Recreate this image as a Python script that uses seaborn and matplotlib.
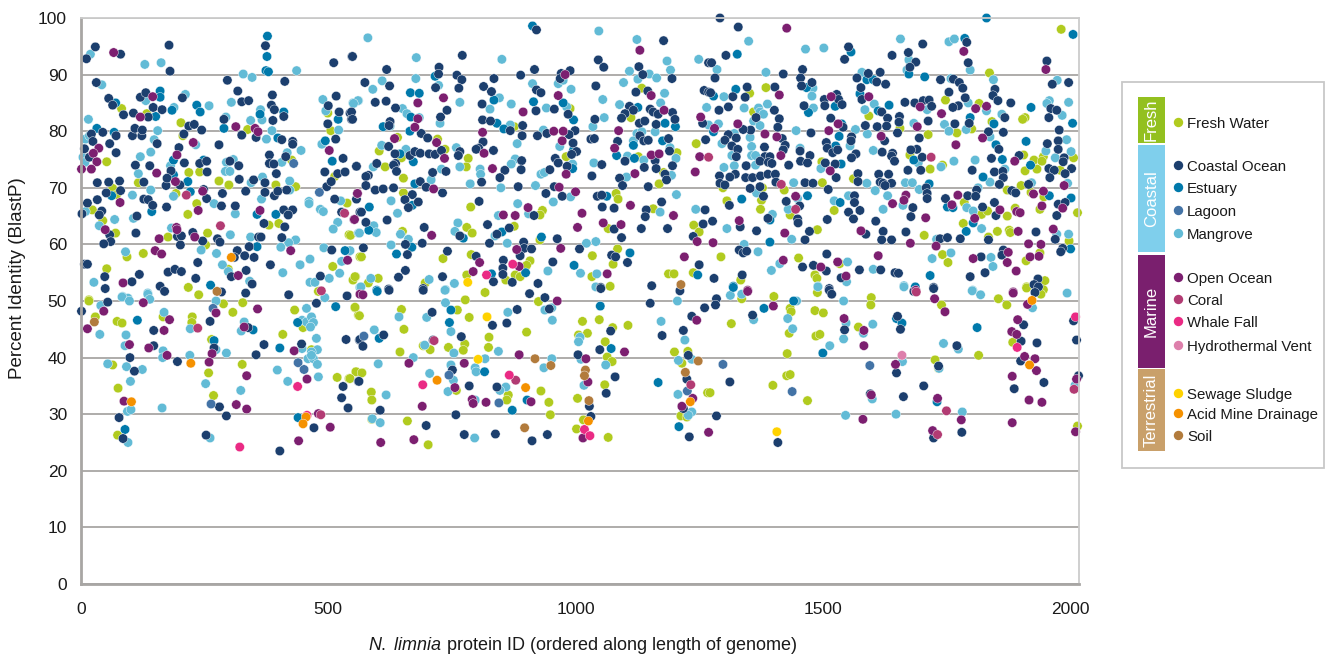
import matplotlib
matplotlib.use('Agg')
import matplotlib.pyplot as plt
from matplotlib.patches import Rectangle
import pandas as pd
import seaborn as sns

# values as (protein id, percent identity)
fresh_water = [(82,84),(133,83.1),(202,81.5),(206,79.2),(337,80.3),(499,83.2),(505,80.1),(52,74.6),(426,74.9),(218,72.7),(240,72.8),(279,71.2),(299,70.5),(116,70.9),(64,69.9),(72,68.8),(192,69),(234,67.2),(434,70.2),(394,70.5),(513,72),(538,67.3),(23,66.1),(44,64.2),(70,62),(216,65.3),(400,63.7),(380,63.4),(256,62),(176,61.3),(542,61.7),(252,59.9),(126,58.4),(93,57.8),(564,57.8),(509,56.1),(52,55.7),(298,55.6),(555,54.3),(550,53.7),(217,52.4),(238,51.1),(16,50.2),(480,51.7),
(16,50),(29,47.2),(73,46.4),(83,46.1),(288,49.5),(327,49.7),(307,48),(225,47.2),(224,46.2),(166,47.2),(408,44.1),(432,48.4),(449,45.3),(264,43.2),(64,38.7),(75,34.6),(258,37.3),(326,38.8),(268,33.3),(74,26.3),(518,36.5),(542,36.3),(556,37.5),(554,48.8),(561,47.5),(466,41.4),
(1134,87.6),(989,84),(1112,82.4),(876,80.8),(640,78.9),(721,78.6),(736,76.8),(603,76.5),(648,75.3),(981,75.5),(783,75.2),(779,73.7),(615,73.7),(652,71.7),(1178,72.7),(1205,76.2),(1169,70.7),(1127,75.5),(1244,77.8),(652,69.1),(1082,69),(1086,68),(788,66.6),(933,66),(928,65.2),(1157,66.3),(1239,63.4),(545,61.6),(780,63),(791,62),(1066,62.8),(876,63.2),(650,62.3),(1250,62.2),(928,60.8),(1085,59.2),(789,58.2),(732,57.5),(567,57.8),(1034,58),(1076,56.5),(908,57.1),(901,56.3),(1188,54.8),(1199,54.8),(780,54.6),(878,54.6),(888,54.3),(859,53.7),(1033,54.3),(1238,55),(554,54.3),(601,54),(581,53.2),(696,53.2),(1070,52.6),
(777,50.2),(817,51.5),(925,49.9),(554,48.9),(563,47.4),(648,48.5),(761,48.4),(785,47.1),(1014,46.4),(1048,46.7),(1106,45.7),(653,45),(901,44.5),(825,43.6),(1024,44.3),(1075,45.3),(1006,44),(1060,42.8),(776,42.4),(773,41.3),(824,41.8),(743,41.8),(706,41.4),(645,41),(692,42.1),(1200,41),(1227,41.1),(1064,40.1),(1074,39.3),(1215,39),(556,37.5),(568,37.3),(544,36.3),(1059,35.2),(930,34.1),(587,33.9),(588,32.5),(759,34.2),(864,33.4),(861,32.5),(946,32.1),(1004,32.8),(1267,33.8),(949,29.9),(588,29.1),(660,28.8),(1016,29),(1002,27.4),(1066,25.9),(702,24.6),(1213,29.7),(1225,29.5),
(1982,98),(1837,90.3),(1385,87.7),(1352,86.7),(1748,85.5),(1816,84.9),(1360,83.4),(1593,82.7),(1909,82.4),(1904,82.1),(1842,81.7),(1801,80.4),(1656,80.5),(1713,79.4),(1771,79.7),(1676,75.8),(1906,75.8),(1946,75.5),(1927,74.9),(1943,74.7),(2007,75.3),(1498,74.6),(1717,73.3),(1909,73),(1933,73.3),(1980,73.1),(1742,74),(1562,71.6),(1499,70.9),(1298,70),(1378,70),(1422,69.6),(1901,70.4),(1873,69.6),(1947,68.4),(1921,69.2),(1306,67.7),(1376,67.8),(1374,66.2),(1523,66),(1434,65.2),(1786,67.4),(1939,66.2),(2015,65.6),(1889,66.4),(1873,65),(1821,65.3),(1833,65.9),(1784,63.7),(1489,62.6),(1705,61.6),(1853,62.3),(1877,62.5),(1879,62.1),(1835,61.3),(1998,60.6),(1294,57.8),(1451,57.6),(1742,58.2),(1753,56.8),(1939,58.5),(1911,57.1),(1534,56.6),(1484,54.6),(1488,54),(1334,53.7),(1949,53.6),(1912,52.5),(1946,52),
(1336,50.4),(1401,50.8),(1489,51.5),(1434,48.7),(1436,48.1),(1484,48.3),(1501,47.9),(1598,50.6),(1597,49.3),(1740,49.3),(1855,50.4),(1872,49.3),(1912,52.3),(1941,51.2),(1315,46),(1572,45.4),(1432,44.3),(1486,43.8),(1494,44.1),(1884,42.7),(1428,40.7),(1727,39.6),(1815,40.4),(1427,36.8),(1434,37),(1399,35.1),(1734,38.1),(1469,32.4),(1272,33.8),(2015,27.9)]

mangrove = [(19,93.6),(129,91.8),(162,92.1),(42,88.2),(328,90.1),(346,89.5),(436,90.7),(304,85.1),(211,86.5),(259,84.5),(131,85.4),(188,84.2),(363,83.8),(293,82.5),(366,82),(343,81.9),(489,85.6),(495,83.6),(550,85),(561,85.4),(15,82.1),(155,80.1),(386,80.1),(375,78.6),(521,80.2),(9,78.6),(17,79.2),(148,78.5),(141,76.3),(120,75.5),(232,77.6),(445,76.6),(487,77.7),(4,75.4),(8,74.5),(181,73.9),(308,75),(294,74.5),(406,74.5),(417,76.2),(292,72.9),(301,72.9),(116,72.5),(367,71.9),(141,69.6),(422,71.2),(344,70.9),(104,68.7),(187,68.5),(422,69.6),(365,68),(269,67.2),(461,67.6),(461,67.2),(484,66.2),(490,65.8),(525,67.7),(9,65.8),(106,64.6),(68,64.4),(312,65.4),(519,63.9),(510,62.7),(37,63.3),(183,62.9),(302,61.7),(561,62),(434,60.8),(343,61.3),(420,60.3),(404,59.5),(491,59.4),(542,58.8),(90,58.7),(243,59),(274,58.4),(463,57.4),(443,56.4),(286,56.4),(527,57),(298,55.2),(408,55),(523,54.9),(502,54),(341,53.5),(26,53.3),(463,53.3),(473,53.3),(564,52.4),(84,50.8),(135,51.4),(95,50.5),
(40,49.2),(83,50.7),(98,50),(135,51.2),(139,50.3),(273,50),(493,50.6),(168,48),(456,48.7),(38,44.1),(91,44),(89,42.1),(221,45.1),(330,46.3),(324,44.7),(273,41.4),(166,41.2),(165,40),(220,40.4),(294,40.8),(54,38.9),(92,38.4),(124,37.9),(100,35.8),(252,35.4),(323,34.2),(94,30.5),(101,30.8),(164,31.1),(397,37.8),(418,35.8),(480,36.6),(261,25.8),(95,25),
(447,46.6),(456,46.3),(466,47.2),(470,46.2),(464,45.4),(476,43.4),(478,41.4),(466,41),(459,39.8),(470,39.8),(478,38.8),(466,40.4),(447,41.6),
(580,96.5),(1047,97.7),(1124,96.2),(678,93),(851,92.7),(1185,92.4),(1249,92.7),(1192,90.8),(1109,90.6),(677,89.3),(609,88.9),(590,87.4),(1126,89.2),(1149,90.1),(1164,89.4),(1097,88.6),(913,88.4),(965,88.4),(991,87.4),(975,89),(723,88.1),(1180,86.7),(560,85.4),(551,84.9),(766,85.1),(846,85.9),(870,84.8),(1055,85.6),(1172,85),(1089,84.7),(650,84),(659,83.1),(827,83.9),(941,84.1),(982,84.3),(1058,82.4),(1265,84.2),(726,81.4),(684,82.4),(625,80.9),(1035,80.8),(868,81.1),(935,80.2),(1124,79.6),(1134,79.9),(1161,79.9),(1269,81.1),(1117,78.3),(608,77.5),(657,76.8),(882,77.8),(968,77.3),(759,77.1),(1191,77.1),(1105,75.6),(1138,74.9),(1203,75.2),(878,75.1),(870,74.2),(591,73.7),(766,73.7),(729,73.3),(1037,74.4),(994,74.2),(807,73.3),(808,72.4),(930,72.4),(937,72.7),(708,71.4),(1103,71.9),(1194,72.2),(787,70.7),(849,70),(919,70.4),(1204,68.8),(990,68.4),(627,67.7),(883,67.2),(955,67.5),(640,65.5),(1243,66.2),(1171,65.7),(844,65.1),(905,65.4),(592,63.3),(597,62.1),(563,62),(762,63.8),(756,62.3),(646,61.8),(662,60.9),(837,61.5),(1041,60.5),(1022,60.2),(862,60.2),(627,59.9),(544,58.9),(944,55.3),(1010,54.9),(1043,54.8),(586,54),(704,53.8),(566,52.5),(755,53.1),(737,52),(1041,52.5),
(736,51.9),(737,49.7),(1206,50),(643,47.2),(699,47.1),(863,48),(938,48.4),(952,48.8),(953,46.6),(1173,46.4),(593,44.9),(748,44.6),(1221,43.1),(1009,43.6),(1006,42.8),(695,42.2),(844,41.1),(754,40.8),(672,40),(817,39.8),(952,39.8),(1208,39.5),(1011,39.7),(1235,39.7),(601,38.9),(748,38.7),(936,38.2),(1061,38.7),(797,38.2),(799,37.5),(705,37.2),(753,36),(1017,35.1),(859,34.8),(847,34.2),(742,34),(617,33.4),(1207,33.5),(797,32.5),(589,29.2),(605,28.5),(1235,30.4),(1228,29.8),(796,25.8),
(1350,95.9),(1657,96.3),(1465,94.5),(1502,94.7),(1755,95.8),(1766,96.3),(1674,92.6),(1670,90.8),(1798,90.8),(1845,89.1),(1286,90.9),(1385,90.4),(1579,90.4),(1974,89),(1759,89.3),(1480,87.6),(1478,86.2),(1300,86.1),(1388,84.8),(1481,84.1),(1341,84.1),(1370,84.1),(1373,83.4),(1380,83),(1360,81.8),(1585,83.8),(1604,84.8),(1711,83.8),(1794,85),(1831,83.6),(1958,85.4),(1953,84.9),(1997,85.1),(1862,83),(1984,82.8),(1289,81.3),(1373,81),(1746,81.2),(1684,81.4),(1446,80.1),(1566,80.3),(1755,80),(1790,80.3),(1321,79.6),(1353,78.9),(1296,77.8),(1590,79.5),(1993,78.5),(1838,79),(1356,77.3),(1454,77),(1555,77.4),(1602,76.6),(1356,75.7),(1364,75.7),(1316,75.7),(1951,76.5),(2002,76.4),(1970,75.3),(1808,74.9),(1765,74.7),(1300,73.6),(1321,73.9),(1364,74),(1693,74.4),(1739,73.7),(1496,73.4),(1868,73.3),(1838,71),(1441,70.9),(1589,70.8),(1667,70.9),(1681,70.9),(1606,69.5),(1695,69.7),(1922,70.9),(1995,70.8),(1814,70),(1631,68.6),(1552,68.6),(1523,67.7),(1662,66.9),(1622,66.2),(1430,66.2),(1449,68.1),(1366,69.1),(1791,66.5),(1804,65.9),(1398,65.3),(1821,62.8),(1306,62.8),(1437,60.9),(1730,60.9),(1341,60),(1759,58.5),(1721,57.5),(1840,57.7),(1369,58.7),(1413,56.6),(1550,56.9),(1602,55.6),(1844,56.1),(1396,55.4),(1973,61.8),(1997,61.8),(1490,52.6),(1548,53.4),(1664,52.7),(1803,51.9),
(1313,51),(1336,51.2),(1447,50),(1542,50),(1664,52.5),(1802,51.8),(1819,51.1),(1994,51.4),(1490,52.5),(1924,48.8),(1360,46.7),(1429,46.9),(1439,45.1),(1547,46.1),(1601,45.9),(1582,44.3),(1542,43.3),(1514,42.1),(1744,42.5),(1774,41.5),(1661,39.3),(1735,38.1),(1600,32.7),(1546,29.8),(1648,30),(1782,30.4),(2010,35.1)]

estuary = [(377,96.8),(376,93.2),(374,90.7),(379,90.5),(160,87.1),(160,86),(70,85),(234,84.6),(241,83.4),(410,83.4),(151,82.6),(362,83),(184,83.7),(32,80.5),(67,79.8),(289,80.5),(520,82.1),(398,78.8),(494,78.3),(508,74.7),(187,74.9),(248,74.9),(216,71.1),(187,72.3),(221,69.3),(62,68.6),(143,65.8),(356,65.3),(394,65.3),(356,59.6),(534,58.9),(262,52.8),
(114,46.6),(438,46.2),(348,44.9),(269,43),(402,41.7),(515,49),(89,27.3),(439,29.4),
(913,98.6),(716,89.7),(666,86.8),(684,86.7),(835,85.5),(915,85.2),(975,85),(667,82.5),(611,80.8),(665,80),(841,81.4),(855,80.4),(996,82),(1181,81.4),(1202,80.8),(1126,84.2),(1117,77.5),(1176,78.3),(996,76.7),(645,76),(1083,75.7),(1119,75.2),(672,74.6),(994,73.4),(675,70.7),(1063,68.5),(583,66.6),(670,66.9),(851,62.2),(773,61.1),(931,61.3),(582,62.5),(669,59.5),(638,58.3),(1110,58.5),(997,56.3),(899,55),(830,54.8),(1247,54.6),(598,51.9),
(599,51.7),(748,48.4),(745,46.2),(1050,49.1),(603,43.4),(1072,41.6),(816,37.5),(1167,35.6),(902,32.5),(872,30.7),(1209,27.8),
(1831,100),(1787,96.4),(2006,97.1),(1557,94),(1327,93.6),(1674,90.1),(1706,89.6),(1589,89.1),(1602,89.1),(1324,87.4),(1279,86.2),(1467,87.7),(1575,86.6),(1634,84.6),(1525,84.4),(1921,84.2),(1471,83.3),(1612,83.6),(1798,82.4),(2005,81.4),(1846,81.3),(1538,81.3),(1279,79.9),(1533,79.1),(1911,78.2),(1850,77.6),(1526,77.4),(1537,74.2),(1684,74.9),(1863,75),(1920,74),(1824,71.9),(1715,70.7),(1336,68),(1469,68.6),(1535,67.4),(2002,68.2),(1958,68.6),(1752,66.6),(1763,66.5),(1393,64.3),(1804,63.8),(1790,62.3),(1393,60.4),(2001,59.2),(1717,54.5),(1319,52.6),(1687,52.5),
(1319,52.4),(1441,50),(1381,48.7),(1649,46.9),(1660,46.1),(1812,45.3),(1500,40.8),(1731,32.2)]

coastal_ocean = [(29,94.9),(11,92.8),(80,93.6),(178,95.2),(180,90.6),(373,95.1),(31,88.6),(296,89),(412,88.8),(511,92.1),(548,93.2),(56,85.8),(64,84.6),(86,82.9),(106,83.2),(120,86),(131,86.8),(146,84.2),(136,82.5),(164,83.8),(205,85.9),(317,87.1),(325,85.2),(339,85.4),(387,86.4),(385,84.6),(391,83.8),(410,82.6),(289,82.1),(388,81.9),(500,84.5),(516,86.2),(522,83.4),(544,83.2),(547,82.1),(499,81.3),(21,79.5),(24,78.2),(44,79.8),(71,79.2),(104,79.2),(109,80.5),(123,79.2),(124,80.2),(218,80.9),(229,81.2),(244,80.2),(208,79.5),(325,79.3),(354,78.9),(406,78.5),(428,78.2),(515,78.6),(7,76.9),(58,77.8),(71,76.2),(154,77.8),(198,77.1),(279,77.6),(428,77.7),(414,75.5),(381,75.8),(17,75.4),(110,74),(139,73.9),(209,74.4),(240,74.3),(254,74.7),(301,74.7),(319,73.9),(381,74.3),(390,74.2),(530,75.2),(493,72.8),(557,73.8),(33,70.9),(56,71),(78,71.2),(127,71),(172,70.4),(182,73),(174,71.7),(200,70.5),(255,72.8),(320,71.5),(349,71.4),(372,70.9),(395,72.5),(497,70.2),(519,72.5),(534,72.8),(506,71.1),(51,69.1),(80,69.5),(33,67.9),(13,67.3),(127,68),(136,67.9),(145,66.9),(173,66.6),(248,69.7),(254,68.1),(284,66.8),(286,69),(333,69.4),(312,66.8),(372,69.2),(391,68.6),(398,69.4),(416,69.6),(513,68),(557,68),(2,65.4),(42,65.9),(37,65.2),(113,65),(410,66.1),(428,66.1),(419,65.2),(527,65.7),(564,65.7),(370,63.7),(412,63.1),(58,61.7),(60,60.5),(46,60.1),(111,62),(195,61.4),(203,61.5),(201,59.9),(226,62.1),(246,60.6),(276,61),(281,60.4),(316,58.9),(340,59.6),(359,61.3),(364,61.3),(406,61.2),(507,59),(7,56.5),(13,56.5),(236,56.8),(310,57.7),(331,58),(350,57.7),(383,56.4),(48,54.3),(118,54.7),(176,55.1),(190,55.6),(203,55.2),(232,54),(304,54.3),(334,55.4),(484,54.4),(49,52.2),(103,53.4),(160,52.6),(169,51.7),(346,53),(284,51.6),(333,51.4),(420,51.1),(538,50.9),
(1,48.2),(54,49.8),(476,49.6),(261,46.4),(147,44.8),(147,42.1),(99,40),(195,39.3),(108,37.6),(269,41.7),(354,40.5),(370,42.3),(446,42.4),(338,45.3),(536,43.2),(563,43.1),(561,35.8),(530,34.9),(527,32.9),(540,31.1),(280,31.3),(294,29.7),(77,29.4),(85,25.7),(253,26.3),(471,27.6),(402,23.5),
(921,97.9),(549,93.2),(771,93.4),(1178,96),(1046,92.6),(1057,91.3),(1269,92.1),(618,90.9),(724,91.3),(723,90.1),(760,89.9),(770,89.1),(889,89.9),(917,90.9),(835,89.3),(971,90.2),(969,89.3),(989,90.7),(1128,91.4),(1136,90),(1195,89.3),(574,88.6),(624,88),(717,87.7),(764,87.6),(814,87.9),(830,87),(921,87.3),(930,86.8),(1041,88),(1122,86.9),(1146,87.1),(1260,87.2),(1269,86.9),(595,85.1),(617,85.3),(636,84.1),(811,84.8),(740,83.7),(727,82.5),(920,83.6),(957,83.9),(985,83),(1109,84.4),(1117,83.7),(1100,83.1),(1093,82.3),(1151,83.9),(1157,83.4),(1167,83),(1196,83.3),(1201,82.1),(547,83.4),(549,82.1),(625,81.7),(623,81),(812,82),(828,81.8),(893,81),(1039,82.1),(1129,81.4),(1140,81.8),(1163,81.2),(1257,81.4),(688,79.6),(701,78.8),(868,80.1),(892,79.2),(923,79.2),(942,79.6),(999,80.1),(987,79.4),(1031,78.6),(1038,78.7),(1085,78.2),(1130,79.2),(1138,78.3),(1147,78.4),(1188,78.7),(1263,78.5),(813,78.1),(622,77.3),(995,77.9),(804,77),(799,76.8),(834,76.6),(766,76.4),(763,75.7),(635,76),(665,75.7),(675,76.4),(686,76.1),(704,76),(716,75.9),(729,76.6),(1002,76.4),(992,75.9),(1190,76.5),(959,75.2),(965,74.4),(891,74.8),(1100,74.7),(1161,74.8),(1163,73.4),(598,74.3),(557,73.8),(636,74.3),(632,74),(638,72.9),(1053,74.1),(983,73.8),(1139,73.6),(1196,73.9),(890,73.2),(857,73.1),(948,73.2),(738,72.9),(711,72.7),(581,72.2),(576,72),(847,71.8),(1033,72.1),(1089,71.7),(1181,72.4),(1184,71.4),(576,70.4),(595,69.6),(611,69.8),(632,70),(686,71.1),(698,70.1),(810,71),(884,70.2),(957,70.2),(1095,70.4),(1147,70.2),(940,69),(973,68.5),(1044,68.5),(1053,68.7),(731,69.1),(670,68.8),(655,67.9),(682,67.5),(662,66.5),(805,67.6),(1054,66.6),(1078,66.4),(1174,67.5),(1143,66.1),(1141,64.9),(567,65.7),(619,64.3),(916,65.1),(1262,66.1),(576,63.9),(1258,63.6),(822,63.5),(866,62.9),(841,61.8),(694,63),(1078,62.7),(1133,62.8),(1186,62.8),(1093,61.2),(963,61),(766,61.5),(656,60),(690,60.2),(826,60.2),(571,59.4),(1238,61.4),(895,60.4),(896,59.3),(911,59.2),(1008,59.2),(741,58.8),(660,58.2),(888,58),(799,57.9),(1073,58.1),(1081,57.8),(854,57.2),(954,56.9),(1105,56.8),(656,55.4),(853,55.8),(853,54.7),(1250,56.4),(642,54.2),(731,54.3),(834,53.4),(872,53.3),(924,53.1),(1154,52.7),(1051,52.4),(692,52.2),(622,52.1),
(623,51.9),(692,51.9),(907,51.3),(938,50.6),(947,48.6),(1051,52.2),(1151,49.6),(1211,51.8),(710,48),(882,48.5),(1261,48.8),(832,45.7),(861,46.1),(1235,47.3),(1218,44.8),(1175,43.9),(1071,44.7),(612,44),(564,43.2),(570,42),(769,43.7),(712,43.1),(1049,41.4),(1005,40.5),(1228,40.4),(751,37.8),(562,35.8),(1080,36.6),(1225,36.2),(785,35),(841,34.8),(1062,33.7),(1218,31),(1028,31.4),(605,30.7),(1031,29.6),(758,29.9),(698,28),(775,26.4),(838,26.5),(943,26.4),(912,25.3),(1230,26),
(1292,100),(1329,98.4),(1552,94.9),(1304,93.4),(1275,92.1),(1544,92.7),(1640,93.4),(1702,95.4),(1673,93.9),(1688,92.2),(1676,91.3),(1791,95.7),(1794,92.1),(1953,92.4),(1420,90.1),(1459,90.9),(1282,89.4),(1455,89.4),(1478,88.6),(1457,88),(1569,89.4),(1592,90.2),(1616,90.4),(1609,88.7),(1627,88.3),(1738,89.1),(1764,89.2),(1776,88.6),(1783,87.6),(1964,88.3),(1997,88.6),(1347,87.8),(1403,87.8),(1577,87.7),(1848,87.4),(1844,86.3),(1854,85.4),(1880,85),(1755,86.9),(1318,86.1),(1343,86),(1503,85.6),(1528,86.5),(1532,85.6),(1539,84.7),(1504,84.5),(1579,85.6),(1666,85.1),(1686,85),(1703,85.4),(1715,85.5),(1720,84.4),(1788,85.9),(1774,84.5),(1763,84.2),(1273,86.8),(1309,84.3),(1290,83.7),(1402,83.7),(1462,84.5),(1619,83.4),(1961,84),(1973,83.7),(1957,82.4),(1365,82.4),(1412,82.2),(1516,82.3),(1631,82.3),(1655,82.6),(1713,81.8),(1868,82.4),(1409,80.7),(1354,80.2),(1541,80.7),(1586,81),(1610,80.8),(1629,80.9),(1654,81.6),(1767,81.3),(1796,81.4),(1978,80.2),(1339,80.3),(1309,79.4),(1325,78.8),(1302,78.4),(1418,78.7),(1476,79.7),(1651,79.7),(1558,79),(1695,78.8),(1835,79.9),(1865,79.8),(1507,78),(1557,78.3),(1625,78.3),(1954,77.8),(1976,78.3),(1316,77.4),(1328,76.8),(1382,77.2),(1424,77.5),(1509,77),(1420,76.7),(1690,76.8),(1678,76.7),(1856,76.8),(1976,76.8),(1325,75.5),(1454,76.5),(1520,76.2),(1530,76.7),(1567,76),(1558,75.3),(1620,76.3),(1641,76.1),(1639,75.6),(1645,74.7),(1701,75.4),(1841,75.2),(1897,75.7),(1474,75.7),(1383,75.5),(1393,75.5),(1373,74.7),(1390,74.5),(1397,74.3),(1455,74.7),(1469,74.4),(1505,74.4),(1525,74.2),(1431,74),(1988,75.3),(1986,74.6),(1345,73.9),(1672,73.1),(1698,73.1),(1802,73.1),(1847,72.8),(1864,72.9),(1957,73.4),(1968,73.1),(2003,73.4),(1990,72.5),(1959,71.8),(1291,72.1),(1323,72.4),(1312,71.9),(1344,71.8),(1358,71.8),(1374,72.1),(1389,72.4),(1404,72.4),(1405,71),(1571,72.5),(1571,71.1),(1613,72.4),(1633,72.4),(1527,71.8),(1865,71.8),(1292,70.8),(1302,70.5),(1353,69.9),(1373,70.2),(1464,70.9),(1480,70.8),(1616,71),(1622,70.8),(1639,70.8),(1626,70.4),(1857,70.6),(1916,70.6),(1511,69.7),(1380,68.5),(1709,70),(1711,69),(1711,68.1),(1564,68.6),(1564,67.4),(1748,68.1),(1793,68.6),(1811,69.6),(1809,68.5),(1882,69.5),(1890,69.1),(1311,66.9),(1426,67.6),(1453,66.8),(1682,66.5),(1823,66.6),(1847,67.4),(1850,65.1),(1976,67.1),(1990,67.4),(1552,65.7),(1575,66),(1277,64.1),(1389,64.6),(1449,64.5),(1450,63.8),(1509,64.4),(1562,64.5),(1607,64.1),(1678,64.9),(1973,65.1),(1333,63.1),(1366,62.4),(1473,62.3),(1587,61.8),(1622,62.3),(1668,62.2),(1931,62.2),(1464,60.8),(1619,60.8),(1639,60.8),(1737,61),(1752,61.2),(1778,61),(1835,60.8),(1970,60.9),(1331,59),(1339,58.5),(1346,58.8),(1508,58.3),(1865,59),(1862,58.1),(1820,57.8),(1985,59.3),(1981,58.7),(1459,56),(1481,56.3),(1507,55.3),(1574,55.5),(1617,55.5),(1646,55),(1653,54.9),(1337,54.6),(1280,54),(1537,54.1),(1798,54.3),(1828,55),(1935,53.9),(1927,52.9),(1936,52.5),(1724,52.4),(1513,52.2),
(1285,50.4),(1283,49.3),(1358,47.5),(1513,51.9),(1518,51.2),(1724,52.2),(1929,51.5),(1651,47.3),(1906,45.8),(1544,44.9),(1657,45),(2007,46.5),(1901,42.9),(1933,42.6),(2013,43.1),(1771,42.1),(1900,39.4),(1734,38.5),(1649,37.3),(2017,36.8),(1312,35.7),(1704,35),(1947,35.6),(1887,34.5),(1596,33.6),(1663,33.1),(1285,29.7),(1781,26.8),(1724,25.8),(1409,25),(1684,51.7)]

lagoon = [(482,69.2),(430,74.3),(267,48.7),(263,31.8),(439,39.1),(451,37.9),(572,43.8),(744,36.9),(845,32),(1226,34.1),(1298,38.8),(1595,38.6),(1438,34)]

open_ocean = [(66,93.9),(145,86.1),(120,82.5),(313,80.8),(352,80.5),(358,79.9),(227,78),(36,77),(25,76.1),(32,74.6),(1,73.3),(21,73.3),(194,75.8),(502,76.6),(153,72.6),(191,71.1),(246,69.4),(79,67.4),(237,66),(362,66),(559,69),(552,64.4),(49,62.6),(193,63),(194,62.6),(230,61.3),(158,61),(150,58.9),(163,58.3),(424,58.9),(539,57.2),(318,54.5),(85,53.2),(564,51.2),
(46,48.2),(126,49.7),(273,47.9),(357,48.6),(179,46.7),(13,45.1),(168,44.8),(330,45.4),(98,42.3),(137,41.7),(174,40.4),(265,40.7),(259,39.2),(431,41.2),(335,36.8),(457,36.2),(87,32.3),(314,31.7),(335,30.9),(480,30.1),(504,27.7),(440,25.3),
(1130,94.3),(979,90),(733,85.9),(681,85),(965,86.3),(1153,86.3),(894,83.4),(1179,83.7),(681,82.2),(675,80.7),(1253,82.5),(812,79.8),(956,80),(975,80),(1087,80.1),(634,78.7),(719,78),(973,78.3),(1079,77),(815,76.1),(1153,75.8),(1169,76),(735,75.2),(1251,75.5),(832,73.4),(981,72.4),(1120,72.5),(1242,72.8),(713,69.8),(967,70.1),(1000,69.3),(559,69),(1111,66.9),(904,66.5),(854,65.2),(878,65.1),(1013,65.5),(1198,65.1),(553,64.4),(1056,63.8),(1092,63.5),(1004,63),(709,61.6),(1246,60.5),(970,59.3),(881,59.1),(806,56.8),(1220,57.8),(886,56.1),(1064,54.8),(793,55.2),
(570,51.1),(963,50),(1245,46.6),(1099,41),(886,40.5),(1021,39.8),(663,39),(775,39),(756,34.7),(1025,35.7),(791,32.6),(793,31.9),(819,32.1),(690,31.4),(910,32.2),(1237,32.8),(1215,31.4),(606,25),(673,25.5),(1015,25.8),(1269,26.8),
(1427,98.2),(1785,94.1),(1951,90.9),(1412,86.4),(1517,86.1),(1593,86.1),(1697,84.3),(1809,84),(1831,84.4),(1740,83.1),(1328,81.3),(1281,80.5),(1531,81.3),(1512,80.1),(1691,80.8),(1383,79.5),(1407,79),(1618,79.1),(1823,78.8),(1769,77.6),(1415,75.7),(1888,74.7),(1515,73),(1988,70.4),(1946,69.4),(1926,68.9),(1445,68.5),(1668,68.7),(1664,67.8),(1773,68.7),(1641,67.2),(1761,67),(1943,66.8),(1985,66.4),(1858,66.1),(1892,65.8),(1899,65.6),(1807,64.6),(1708,64.7),(1331,64.2),(1966,62.7),(1423,62),(1577,62.4),(1895,62.3),(1278,60.3),(1677,60.2),(1729,59.7),(1916,60.1),(1941,60),(1612,58),(1420,57.2),(1804,57.5),(1875,58.6),(1873,56.8),(1919,57.8),(1937,57.9),(1530,56.9),(1496,56),(1891,55.3),(1547,54.4),(1348,51.9),(1885,51.6),(1688,51.9),
(1348,51.7),(1885,51.4),(1726,50.4),(1400,49.1),(1914,49.4),(1747,48.1),(1543,46.9),(1894,46.7),(1583,44.8),(1882,44.6),(1892,44.1),(1583,42.1),(1908,40.2),(1929,39.8),(1647,38.8),(1932,37.7),(1883,36.7),(2013,36.2),(1598,33.4),(1732,32.8),(1917,32.5),(1943,32.1),(1780,29),(1581,29.1),(1883,28.5),(1722,27.1),(2011,26.9)]

coral = [(213,68.7),(282,63.3),(533,65.5),(486,51.8),(236,45.2),(485,29.9),(1269,75.4),(714,43),(879,36),(1233,35.2),(1719,75.4),(1416,70.6),(1445,66.2),(1689,51.6),(2008,34.4),(1750,30.6),(1732,26.4)]
whale_fall = [(438,34.9),(321,24.2),(457,29.8),(873,56.5),(820,54.6),(691,35.2),(866,36.9),(1018,27.3),(1029,26.2),(2011,47.2),(1893,41.8)]
hydrothermal_vent = [(1660,40.4)]
sewage_sludge = [(782,53.3),(821,47.2),(803,39.7),(1407,26.9)]
acid_mine_drainage = [(304,57.7),(222,39),(102,32.2),(455,29.5),(449,28.3),(720,36),(899,34.7),(1026,28.8),(1232,32.2),(1923,50.1),(1918,38.7)]
soil = [(275,51.7),(27,46.3),(1213,52.9),(918,39.8),(950,38.6),(1020,37.8),(1018,36.8),(1027,32.4),(897,27.6),(1248,39.4),(1222,37.4)]

x_ticks = [0, 500, 1000, 1500, 2000]
y_ticks = [0, 10, 20, 30, 40, 50, 60, 70, 80, 90, 100]

# draw order, first one ends up at the bottom
series = {
    'Fresh Water': fresh_water,
    'Mangrove': mangrove,
    'Estuary': estuary,
    'Coastal Ocean': coastal_ocean,
    'Lagoon': lagoon,
    'Open Ocean': open_ocean,
    'Coral': coral,
    'Whale Fall': whale_fall,
    'Hydrothermal Vent': hydrothermal_vent,
    'Sewage Sludge': sewage_sludge,
    'Soil': soil,
    'Acid Mine Drainage': acid_mine_drainage,
}
colors = {
    'Fresh Water': '#b1cb1f',
    'Coastal Ocean': '#1c3f6e',
    'Estuary': '#0079ab',
    'Lagoon': '#4373a6',
    'Mangrove': '#62bbd6',
    'Open Ocean': '#7c1f70',
    'Coral': '#b23b73',
    'Whale Fall': '#ea2a84',
    'Hydrothermal Vent': '#dd7fab',
    'Sewage Sludge': '#ffd200',
    'Acid Mine Drainage': '#f59100',
    'Soil': '#b27b3c',
}

rows = []
for name, pts in series.items():
    for px, py in pts:
        rows.append((name, px, py))
df = pd.DataFrame(rows, columns=['habitat', 'protein', 'identity'])

sns.set_theme(style='white')
plt.rcParams['font.family'] = ['Liberation Sans', 'DejaVu Sans']
plt.rcParams['mathtext.fontset'] = 'custom'
plt.rcParams['mathtext.it'] = 'Liberation Sans:italic'
plt.rcParams['mathtext.rm'] = 'Liberation Sans'

W, H = 1326, 655
fig = plt.figure(figsize=(W / 100, H / 100), dpi=100)
ax = fig.add_axes([81 / W, 1 - 584 / H, 998 / W, 566 / H])

grid_col = '#a8a6a4'
ax.set_axisbelow(True)
ax.grid(axis='y', color=grid_col, linewidth=1.3)
sns.scatterplot(data=df, x='protein', y='identity', hue='habitat', palette=colors,
                s=46, linewidth=0.3, edgecolor='white', legend=False, ax=ax, clip_on=False)

ax.set_xlim(0, 2018)
ax.set_ylim(0, 100)
ax.set_xticks(x_ticks)
ax.set_yticks(y_ticks)
ax.tick_params(axis='both', length=4, width=1.3, color=grid_col, labelsize=12.5, labelcolor='#1a1a1a', pad=6)
ax.tick_params(axis='x', pad=9)
for side in ['left', 'bottom']:
    ax.spines[side].set_color(grid_col)
    ax.spines[side].set_linewidth(2)
for side in ['top', 'right']:
    ax.spines[side].set_color('#cccccc')
    ax.spines[side].set_linewidth(1.3)
ax.set_xlabel(r'$\mathit{N.\ limnia}$ protein ID (ordered along length of genome)', fontsize=13, color='#1a1a1a')
ax.set_ylabel('Percent Identity (BlastP)', fontsize=13.5, color='#1a1a1a')
ax.xaxis.set_label_coords(0.503, -0.09)
ax.yaxis.set_label_coords(-0.055, 0.54)

# legend panel drawn by hand in pixel coordinates
leg = fig.add_axes([0, 0, 1, 1], facecolor='none')
leg.set_xlim(0, W)
leg.set_ylim(H, 0)
leg.axis('off')
leg.add_patch(Rectangle((1121.5, 81.5), 202, 386, facecolor='white', edgecolor='#c8c8c8', linewidth=1.3))
groups = [('Fresh', 97, 143, '#93c01f'), ('Coastal', 145, 252, '#7fcfec'),
          ('Marine', 255, 368, '#7a1f6e'), ('Terrestrial', 369, 451, '#c9a06a')]
for label, top, bottom, col in groups:
    leg.add_patch(Rectangle((1138, top), 27, bottom - top, facecolor=col, edgecolor='none'))
    leg.text(1151.5, (top + bottom) / 2, label, rotation=90, color='white', ha='center', va='center', fontsize=12)
entries = [('Fresh Water', 122), ('Coastal Ocean', 165), ('Estuary', 187), ('Lagoon', 210), ('Mangrove', 233),
           ('Open Ocean', 277), ('Coral', 299), ('Whale Fall', 321), ('Hydrothermal Vent', 345),
           ('Sewage Sludge', 393), ('Acid Mine Drainage', 413), ('Soil', 435)]
for label, ypos in entries:
    leg.scatter([1178], [ypos], s=46, color=colors[label], linewidth=0)
    leg.text(1187, ypos + 2, label, color='#1a1a1a', ha='left', va='center', fontsize=10.8)

fig.savefig('out.png', dpi=100)
